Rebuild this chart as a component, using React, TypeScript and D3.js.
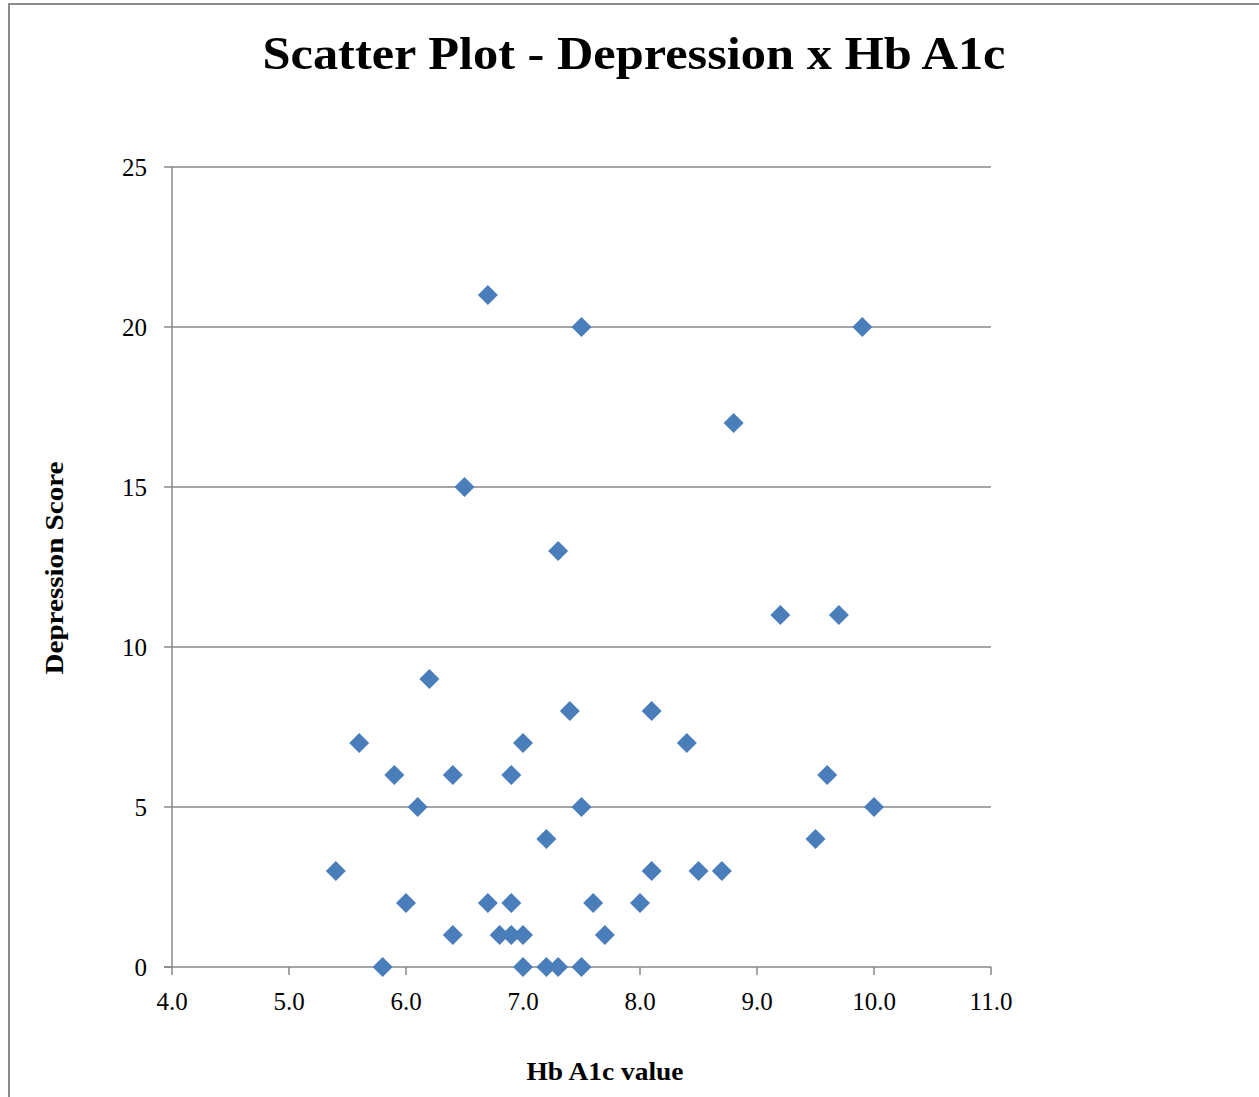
import React from "react";
import * as d3 from "d3";

const hba1c = [5.4, 5.6, 5.8, 5.9, 6.0, 6.1, 6.2, 6.4, 6.4, 6.5, 6.7, 6.7, 6.8, 6.9, 6.9, 6.9, 7.0, 7.0, 7.0, 7.2, 7.2, 7.3, 7.3, 7.4, 7.5, 7.5, 7.5, 7.6, 7.7, 8.0, 8.1, 8.1, 8.4, 8.5, 8.7, 8.8, 9.2, 9.5, 9.6, 9.7, 9.9, 10.0];
const depression = [3, 7, 0, 6, 2, 5, 9, 1, 6, 15, 21, 2, 1, 6, 2, 1, 1, 7, 0, 4, 0, 13, 0, 8, 20, 5, 0, 2, 1, 2, 8, 3, 7, 3, 3, 17, 11, 4, 6, 11, 20, 5];
const xTicks = [4, 5, 6, 7, 8, 9, 10, 11];
const yTicks = [0, 5, 10, 15, 20, 25];

const title = "Scatter Plot - Depression x Hb A1c";
const xTitle = "Hb A1c value";
const yTitle = "Depression Score";

const W = 1259;
const H = 1097;
const FONT = "'Liberation Serif', 'DejaVu Serif', serif";
const GRID = "#878787";
const BLUE = "#4A7EBB";

export default function App() {
  const x = d3.scaleLinear().domain([4, 11]).range([172, 991]);
  const y = d3.scaleLinear().domain([0, 25]).range([967, 167]);
  const diamond = d3.symbol().type(d3.symbolSquare).size(200)();
  const pts = hba1c.map((v, i) => ({ x: v, y: depression[i] }));

  return (
    <svg
      width={W}
      height={H}
      style={{ position: "absolute", left: 0, top: 0, background: "#fff" }}
    >
      <rect x={0} y={0} width={W} height={H} fill="#fff" />
      <rect x={9} y={4} width={1400} height={1300} fill="#fff" stroke="#8c8c8c" strokeWidth={2} />

      <text
        x={634}
        y={69}
        textAnchor="middle"
        fontFamily={FONT}
        fontWeight="bold"
        fontSize={46}
        textLength={743}
        lengthAdjust="spacingAndGlyphs"
        fill="#000"
      >
        {title}
      </text>

      {/* gridlines */}
      {yTicks.filter((t) => t > 0).map((t) => (
        <line key={"g" + t} x1={x(4)} x2={x(11)} y1={y(t)} y2={y(t)} stroke={GRID} strokeWidth={1.5} />
      ))}

      {/* y axis */}
      <line x1={x(4)} x2={x(4)} y1={y(25)} y2={y(0)} stroke={GRID} strokeWidth={1.5} />
      {yTicks.map((t) => (
        <g key={"yt" + t}>
          <line x1={x(4) - 8} x2={x(4)} y1={y(t)} y2={y(t)} stroke={GRID} strokeWidth={1.5} />
          <text
            x={147}
            y={y(t)}
            dy="0.35em"
            textAnchor="end"
            fontFamily={FONT}
            fontSize={25}
            fill="#000"
          >
            {t}
          </text>
        </g>
      ))}

      {/* x axis */}
      <line x1={x(4) - 8} x2={x(11)} y1={y(0)} y2={y(0)} stroke={GRID} strokeWidth={1.5} />
      {xTicks.map((t) => (
        <g key={"xt" + t}>
          <line x1={x(t)} x2={x(t)} y1={y(0)} y2={y(0) + 8} stroke={GRID} strokeWidth={1.5} />
          <text
            x={x(t)}
            y={1010}
            textAnchor="middle"
            fontFamily={FONT}
            fontSize={25}
            fill="#000"
          >
            {t.toFixed(1)}
          </text>
        </g>
      ))}

      {/* points */}
      {pts.map((p, i) => (
        <path
          key={"p" + i}
          d={diamond}
          transform={`translate(${x(p.x)},${y(p.y)}) rotate(45)`}
          fill={BLUE}
        />
      ))}

      <text
        x={605}
        y={1080}
        textAnchor="middle"
        fontFamily={FONT}
        fontWeight="bold"
        fontSize={25}
        textLength={157}
        lengthAdjust="spacingAndGlyphs"
        fill="#000"
      >
        {xTitle}
      </text>

      <text
        transform={`translate(63,568) rotate(-90)`}
        textAnchor="middle"
        fontFamily={FONT}
        fontWeight="bold"
        fontSize={25}
        textLength={213}
        lengthAdjust="spacingAndGlyphs"
        fill="#000"
      >
        {yTitle}
      </text>
    </svg>
  );
}
